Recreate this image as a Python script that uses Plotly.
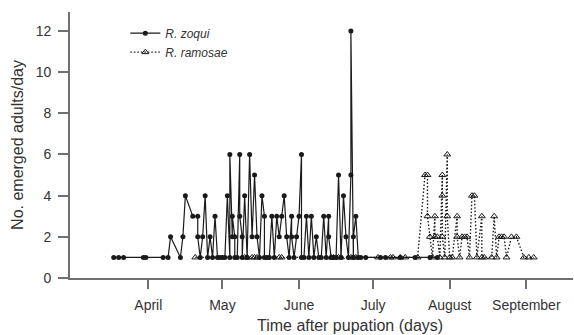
import plotly.graph_objects as go

# Days counted from 1 April (day 0)
zoqui_days = [-14, -12, -10, -2, -1, 6, 8, 9, 13, 14, 15, 18, 20, 20, 21, 22, 23, 24, 25, 26, 27, 28, 29, 30, 31,
              32, 33, 33, 34, 34, 35, 35, 36, 37, 37, 38, 38, 39, 40, 41, 42, 43, 44, 45, 46, 47, 47, 48, 49,
              50, 51, 52, 53, 54, 55, 56, 57, 58, 58, 59, 60, 61, 62, 62, 63, 64, 65, 66, 67, 68, 69, 70, 71,
              72, 73, 73, 74, 75, 76, 77, 78, 79, 80, 81, 82, 82, 83, 83, 84, 85, 86, 88, 94, 96, 102, 108, 114, 117]
zoqui_vals = [1, 1, 1, 1, 1, 1, 1, 2, 1, 2, 4, 3, 3, 2, 1, 2, 4, 1, 2, 1, 3, 1, 1, 1, 1,
              4, 1, 6, 2, 3, 2, 1, 1, 6, 3, 2, 1, 4, 1, 6, 2, 5, 2, 1, 4, 3, 1, 1, 1,
              3, 1, 3, 2, 3, 4, 2, 1, 3, 2, 1, 2, 3, 6, 1, 1, 3, 1, 3, 1, 2, 1, 1, 3,
              1, 3, 2, 1, 1, 1, 5, 1, 4, 2, 1, 5, 12, 1, 2, 3, 1, 1, 1, 1, 1, 1, 1, 1, 1]

ramosae_days = [19, 39, 40, 42, 43, 44, 53, 54, 74, 75, 77, 78, 82, 83, 84, 93, 98, 99, 102, 104, 109,
                112, 113, 113, 114, 115, 116, 116, 117, 118, 119, 119, 119, 120, 121, 121, 122, 123,
                125, 125, 126, 127, 128, 129, 130, 131, 132, 133, 135, 135, 136, 139, 140, 141, 142,
                143, 144, 145, 147, 149, 152, 154, 156]
ramosae_vals = [1, 1, 1, 1, 1, 1, 1, 1, 1, 1, 1, 1, 1, 1, 1, 1, 1, 1, 1, 1, 1,
                5, 5, 3, 2, 1, 3, 2, 2, 1, 5, 4, 2, 1, 6, 3, 1, 1,
                3, 2, 1, 2, 2, 2, 1, 4, 4, 1, 3, 1, 1, 1, 3, 1, 2,
                2, 2, 1, 2, 2, 1, 1, 1]

month_ticks = [0, 30, 61, 91, 122, 153]
month_labels = ["April", "May", "June", "July", "August", "September"]
y_ticks = [0, 2, 4, 6, 8, 10, 12]

FONT = "Liberation Sans, Arial, sans-serif"
TXT = "#333333"
AX = "#707070"

fig = go.Figure()
fig.add_trace(go.Scatter(
    x=zoqui_days, y=zoqui_vals, mode="lines+markers", name="<i>R. zoqui</i>",
    line=dict(color="#1a1a1a", width=1.2),
    marker=dict(symbol="circle", size=5, color="#1a1a1a"),
))
fig.add_trace(go.Scatter(
    x=ramosae_days, y=ramosae_vals, mode="lines+markers", name="<i>R. ramosae</i>",
    line=dict(color="#1a1a1a", width=1.4, dash="1.5px,2px"),
    marker=dict(symbol="triangle-up-open", size=6, color="#1a1a1a", line=dict(width=1)),
))

fig.add_annotation(text="Time after pupation (days)", xref="paper", yref="paper",
                   x=0.557, y=-0.177, xanchor="center", yanchor="middle", showarrow=False,
                   font=dict(size=16, color=TXT, family=FONT))

fig.update_layout(
    width=574, height=335,
    margin=dict(l=70, r=1, t=12, b=57),
    plot_bgcolor="white", paper_bgcolor="white",
    font=dict(family=FONT, size=14, color=TXT),
    showlegend=True,
    legend=dict(x=0.11, y=0.975, xanchor="left", yanchor="top", bgcolor="rgba(0,0,0,0)",
                font=dict(size=12, color=TXT), itemwidth=30, tracegroupgap=0),
    xaxis=dict(range=[-31.7, 171.9], tickvals=month_ticks, ticktext=month_labels,
               showline=True, linecolor=AX, linewidth=1.6, ticks="outside", ticklen=9,
               tickcolor=AX, tickwidth=1.5, showgrid=False, zeroline=False,
               tickfont=dict(size=14, color=TXT), ticklabelstandoff=4),
    yaxis=dict(range=[0, 12.92], tickvals=y_ticks,
               showline=True, linecolor=AX, linewidth=1.6, ticks="outside", ticklen=10,
               tickcolor=AX, tickwidth=1.5, showgrid=False, zeroline=False,
               tickfont=dict(size=14, color=TXT), ticklabelstandoff=4,
               title=dict(text="No. emerged adults/day", font=dict(size=16, color=TXT), standoff=8)),
)

fig.write_html("out.html")
